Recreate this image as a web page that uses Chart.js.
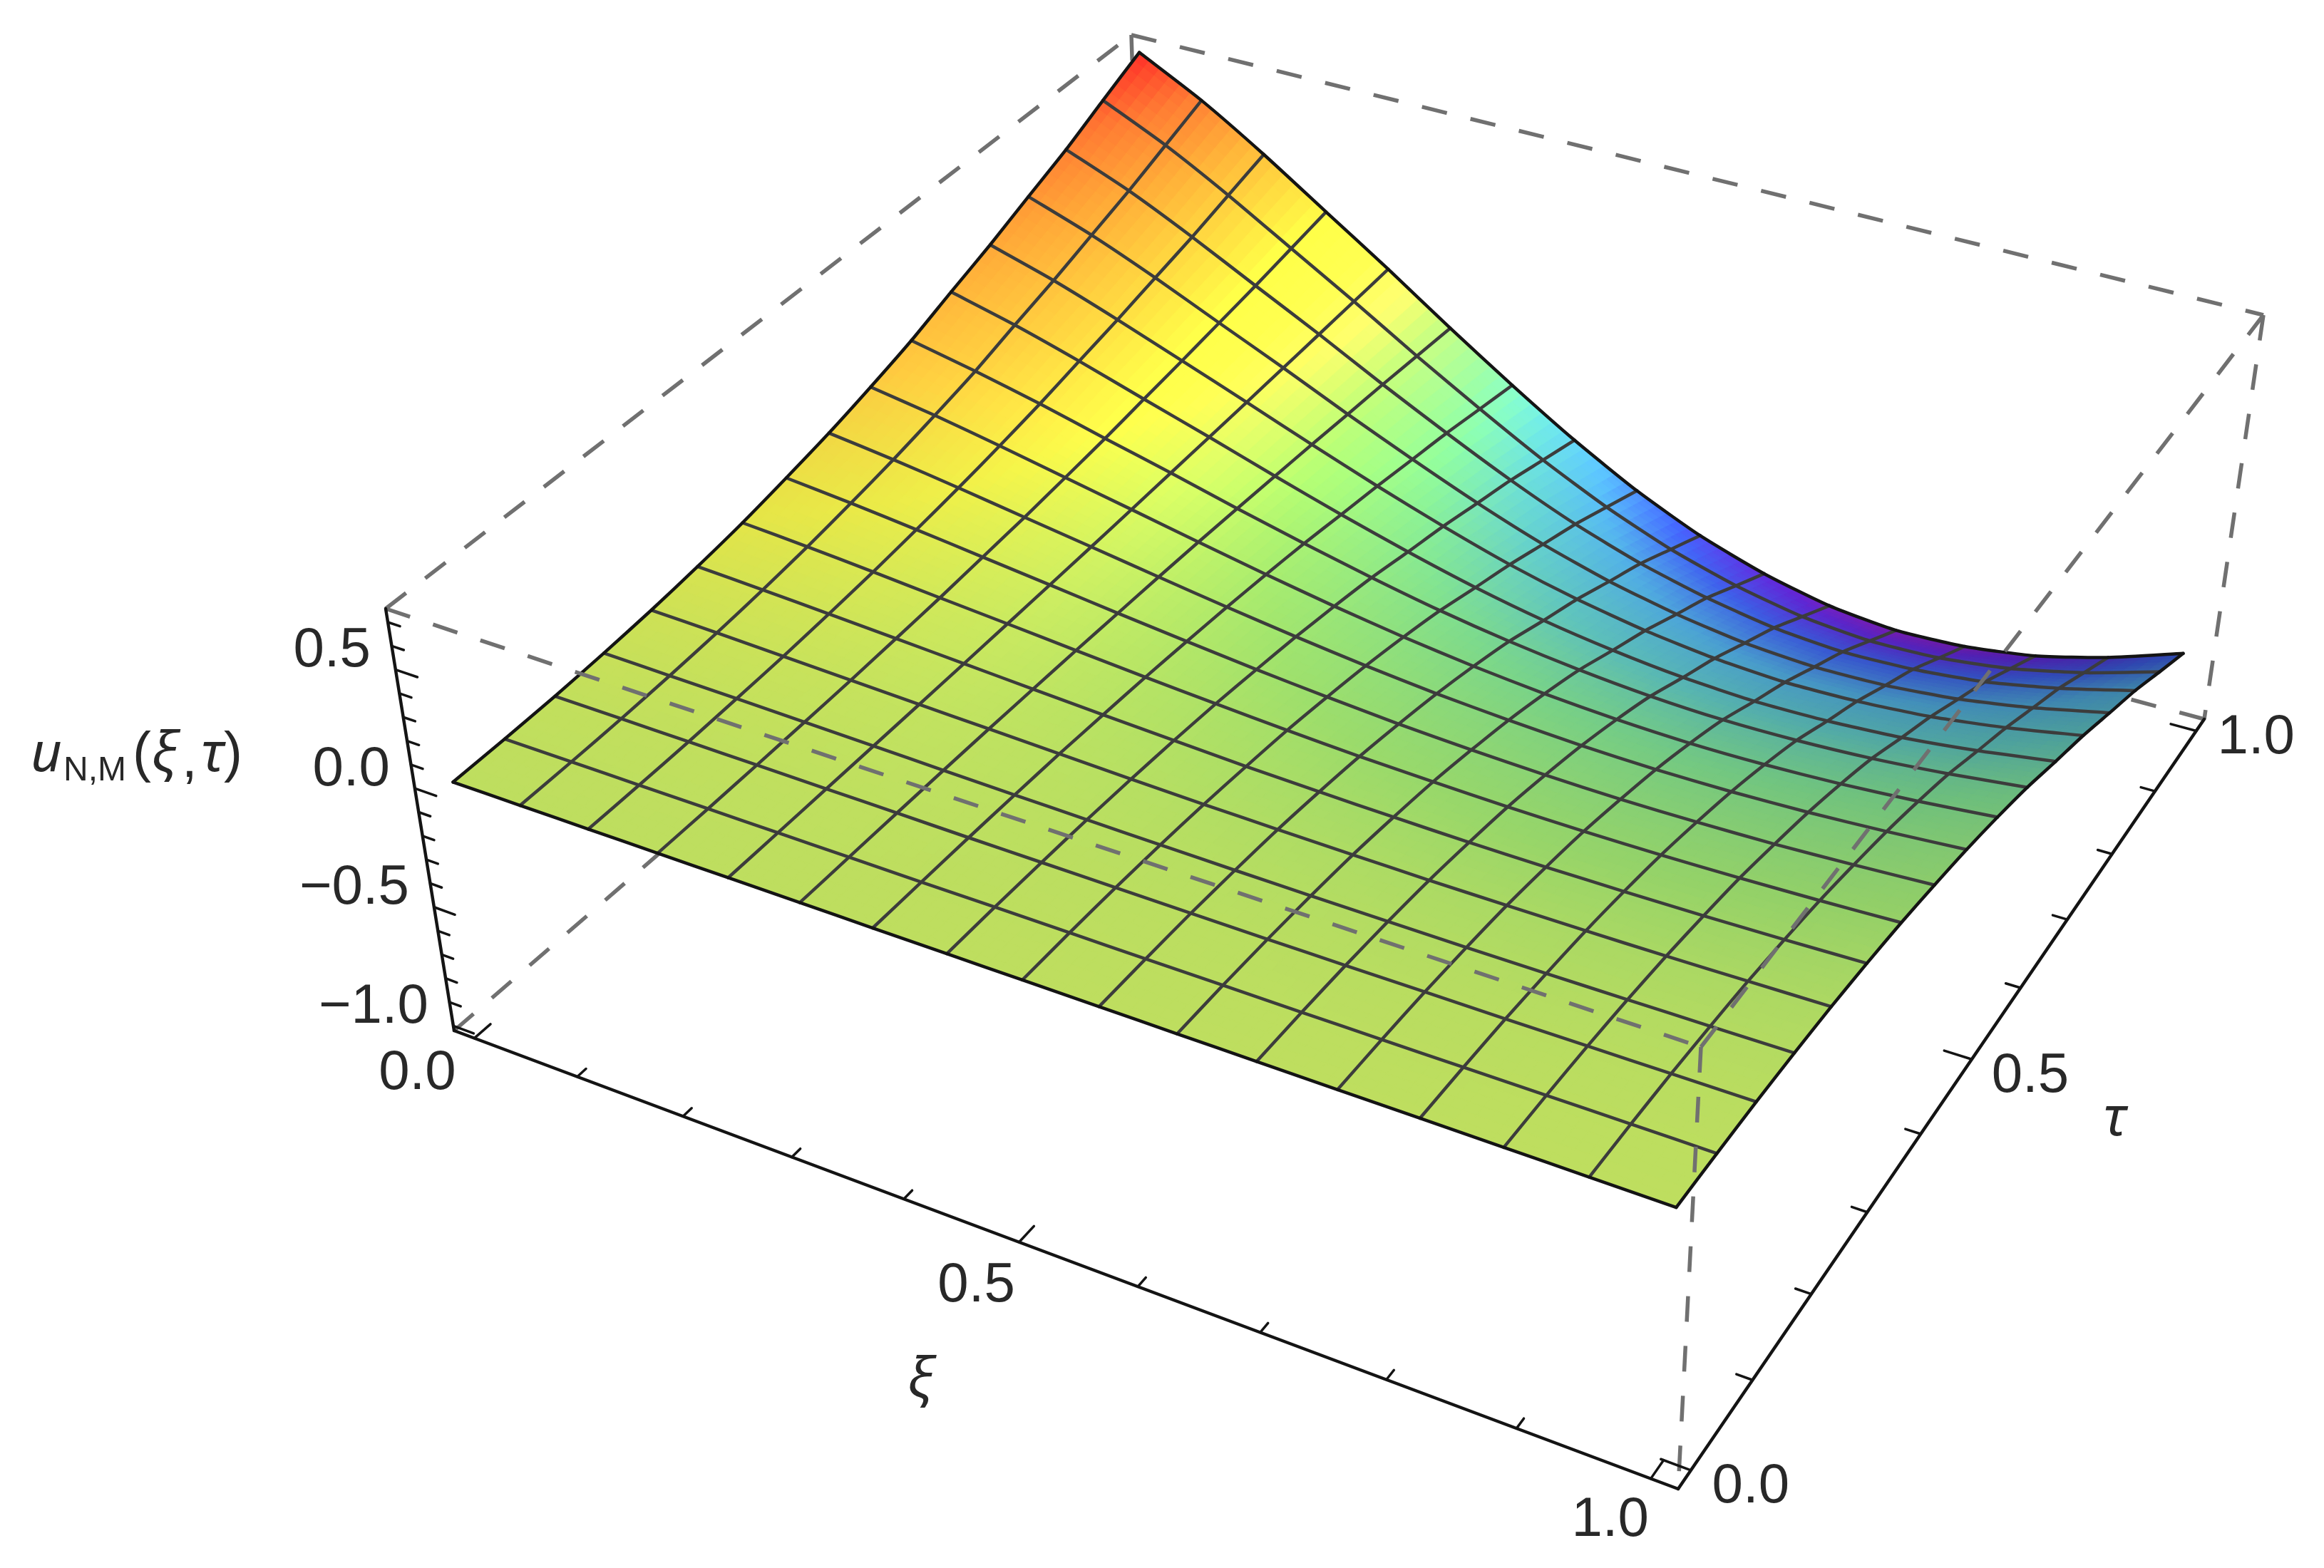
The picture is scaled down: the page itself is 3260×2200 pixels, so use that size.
<!DOCTYPE html>
<html><head><meta charset="utf-8">
<style>html,body{margin:0;padding:0;background:#fff}canvas{display:block}</style>
<script src="https://cdn.jsdelivr.net/npm/chart.js@4"></script>
</head><body><canvas id="c" width="3260" height="2200"></canvas>
<script>
const xiValues=[0,.0625,.125,.1875,.25,.3125,.375,.4375,.5,.5625,.625,.6875,.75,.8125,.875,.9375,1];
const tauValues=[0,.0625,.125,.1875,.25,.3125,.375,.4375,.5,.5625,.625,.6875,.75,.8125,.875,.9375,1];
const uTable=[
[0,0,0,0,0,0,0,0,0,0,0,0,0,0,0,0,0],
[.004,.003,.002,.001,0,-.001,-.002,-.002,-.003,-.004,-.004,-.005,-.005,-.005,-.004,-.004,-.004],
[.011,.009,.006,.004,.001,-.002,-.005,-.007,-.009,-.011,-.013,-.014,-.014,-.014,-.013,-.012,-.011],
[.024,.019,.014,.008,.002,-.004,-.010,-.015,-.020,-.024,-.027,-.029,-.030,-.030,-.028,-.026,-.023],
[.041,.033,.023,.013,.003,-.007,-.017,-.027,-.035,-.041,-.046,-.050,-.051,-.051,-.049,-.044,-.039],
[.065,.052,.037,.021,.005,-.012,-.028,-.042,-.056,-.066,-.074,-.080,-.082,-.081,-.078,-.071,-.062],
[.094,.076,.054,.030,.007,-.017,-.040,-.061,-.080,-.096,-.107,-.115,-.119,-.118,-.112,-.103,-.090],
[.132,.106,.076,.043,.010,-.024,-.056,-.086,-.112,-.134,-.150,-.161,-.167,-.165,-.158,-.144,-.126],
[.174,.140,.100,.056,.013,-.031,-.074,-.113,-.148,-.177,-.198,-.213,-.220,-.218,-.208,-.190,-.166],
[.225,.181,.129,.073,.017,-.040,-.095,-.146,-.191,-.228,-.256,-.275,-.284,-.281,-.268,-.245,-.214],
[.282,.226,.162,.091,.022,-.051,-.119,-.183,-.240,-.286,-.321,-.345,-.356,-.352,-.336,-.307,-.269],
[.352,.283,.202,.114,.027,-.063,-.149,-.229,-.300,-.358,-.401,-.431,-.445,-.440,-.420,-.384,-.336],
[.419,.337,.240,.136,.032,-.075,-.177,-.272,-.357,-.425,-.477,-.512,-.529,-.523,-.500,-.457,-.399],
[.495,.398,.284,.160,.038,-.089,-.209,-.322,-.422,-.503,-.564,-.606,-.625,-.619,-.591,-.540,-.472],
[.569,.458,.326,.184,.044,-.102,-.240,-.370,-.485,-.578,-.648,-.697,-.719,-.711,-.680,-.621,-.543],
[.656,.527,.376,.212,.050,-.118,-.277,-.427,-.558,-.666,-.747,-.803,-.828,-.820,-.783,-.716,-.626],
[.741,.596,.425,.240,.057,-.133,-.313,-.482,-.631,-.753,-.844,-.907,-.936,-.926,-.885,-.809,-.707]
];
const xiTicks=[0,.1,.2,.3,.4,.5,.6,.7,.8,.9,1];
const tauTicks=[0,.1,.2,.3,.4,.5,.6,.7,.8,.9,1];
const uTicks=[-1,-.9,-.8,-.7,-.6,-.5,-.4,-.3,-.2,-.1,0,.1,.2,.3,.4,.5,.6,.7];
const xiLabels=["0.0","0.5","1.0"];
const tauLabels=["0.0","0.5","1.0"];
const uLabels=["\u22121.0","\u22120.5","0.0","0.5"];
const rangeXi=[-.02,1.02], rangeTau=[-.02,1.02], rangeU=[-1.02,.757];

// camera: projected box corners, order (lo,lo) (hi,lo) (hi,hi) (lo,hi)
const floorQuad=[[637,1446],[2354,2089],[3092,1009],[1605,610]];
const ceilQuad=[[541,854],[2386,1469],[3175,442],[1587,49]];
function homography(q){
  const [[x0,y0],[x1,y1],[x2,y2],[x3,y3]]=q;
  const dx1=x1-x2,dx2=x3-x2,sx=x0-x1+x2-x3,dy1=y1-y2,dy2=y3-y2,sy=y0-y1+y2-y3;
  const den=dx1*dy2-dx2*dy1,g=(sx*dy2-dx2*sy)/den,h=(dx1*sy-sx*dy1)/den;
  const a=x1-x0+g*x1,b=x3-x0+h*x3,d=y1-y0+g*y1,e=y3-y0+h*y3;
  return (u,v)=>{const w=g*u+h*v+1;return [(a*u+b*v+x0)/w,(d*u+e*v+y0)/w];};
}
const floorH=homography(floorQuad),ceilH=homography(ceilQuad);
function project(xi,tau,z){
  const u=(xi-rangeXi[0])/(rangeXi[1]-rangeXi[0]),v=(tau-rangeTau[0])/(rangeTau[1]-rangeTau[0]);
  const f=(z-rangeU[0])/(rangeU[1]-rangeU[0]);
  const a=floorH(u,v),b=ceilH(u,v);
  return {x:a[0]+(b[0]-a[0])*f,y:a[1]+(b[1]-a[1])*f};
}
// colour ramp by u value
const ramp=[[-.986,130,25,165],[-.9,105,30,175],[-.85,85,35,190],[-.7,55,85,205],[-.55,70,150,195],[-.4,85,175,170],[-.25,115,200,130],[-.1,150,212,105],[0,190,222,95],[.1,220,220,70],[.25,230,180,60],[.45,225,135,50],[.6,225,95,45],[.74,225,35,35]];
function rampColor(z,L){
  let i=0;while(i<ramp.length-2&&z>ramp[i+1][0])i++;
  const A=ramp[i],B=ramp[i+1];let t=(z-A[0])/(B[0]-A[0]);t=Math.max(0,Math.min(1,t));
  const p=.5+.5*Math.max(0,Math.min(1,(-.05-z)/.3));
  const c=[1,2,3].map(k=>{const f=k===3?Math.pow(L,p):L;return Math.min(255,Math.round((A[k]+(B[k]-A[k])*t)*f));});
  return `rgb(${c[0]},${c[1]},${c[2]})`;
}
const nI=xiValues.length,nJ=tauValues.length;
// shading from slope along xi
const shade=uTable.map((row,j)=>row.map((_,i)=>{
  const i0=Math.max(0,i-1),i1=Math.min(nI-1,i+1);
  const d=(row[i1]-row[i0])/(xiValues[i1]-xiValues[i0]);
  return Math.max(.85,Math.min(1.38,1-(d<0?.14:.1)*d));
}));
const paint=[];
function lineDs(pts,color,width,dash,tension){
  paint.push({data:pts,showLine:true,fill:false,pointRadius:0,borderColor:color,borderWidth:width,borderDash:dash||[],borderCapStyle:dash?'butt':'round',borderJoinStyle:'round',tension:tension||0,clip:false});
}
const DASH=[36,34],GREY='rgb(112,112,112)';
const P=(a,b,c)=>project(rangeXi[a],rangeTau[b],rangeU[c]);
// back box edges
[[P(0,0,0),P(0,1,0)],[P(1,1,0),P(0,1,0)],[P(0,1,1),P(0,1,0)],[P(0,0,1),P(0,1,1)],[P(0,1,1),P(1,1,1)],[P(1,1,1),P(1,1,0)]].forEach(e=>lineDs(e,GREY,5.5,DASH));
// surface patches
const SUB=6;
for(let j=nJ-2;j>=0;j--)for(let i=0;i<nI-1;i++){
  const z00=uTable[j][i],z10=uTable[j][i+1],z01=uTable[j+1][i],z11=uTable[j+1][i+1];
  const L00=shade[j][i],L10=shade[j][i+1],L01=shade[j+1][i],L11=shade[j+1][i+1];
  const zAt=(s,t)=>z00*(1-s)*(1-t)+z10*s*(1-t)+z01*(1-s)*t+z11*s*t;
  const lAt=(s,t)=>L00*(1-s)*(1-t)+L10*s*(1-t)+L01*(1-s)*t+L11*s*t;
  const xiAt=s=>xiValues[i]+(xiValues[i+1]-xiValues[i])*s,tauAt=t=>tauValues[j]+(tauValues[j+1]-tauValues[j])*t;
  for(let b=SUB-1;b>=0;b--)for(let a=0;a<SUB;a++){
    const s0=a/SUB,s1=(a+1)/SUB,t0=b/SUB,t1=(b+1)/SUB;
    const pts=[[s0,t0],[s1,t0],[s1,t1],[s0,t1],[s0,t0]].map(([s,t])=>project(xiAt(s),tauAt(t),zAt(s,t)));
    const col=rampColor(zAt((s0+s1)/2,(t0+t1)/2),lAt((s0+s1)/2,(t0+t1)/2));
    paint.push({data:pts,showLine:true,fill:'shape',backgroundColor:col,borderColor:col,borderWidth:1.5,pointRadius:0,tension:0,clip:false});
  }
}
// mesh
const MESH='rgb(60,60,60)',EDGE='rgb(20,20,20)',T=.2;
for(let j=1;j<nJ-1;j++)lineDs(xiValues.map((x,i)=>project(x,tauValues[j],uTable[j][i])),MESH,4.5,null,T);
for(let i=1;i<nI-1;i++)lineDs(tauValues.map((t,j)=>project(xiValues[i],t,uTable[j][i])),MESH,4.5,null,T);
lineDs(xiValues.map((x,i)=>project(x,0,uTable[0][i])),EDGE,4.5,null,T);
lineDs(xiValues.map((x,i)=>project(x,1,uTable[nJ-1][i])),EDGE,4.5,null,T);
lineDs(tauValues.map((t,j)=>project(0,t,uTable[j][0])),EDGE,4.5,null,T);
lineDs(tauValues.map((t,j)=>project(1,t,uTable[j][nI-1])),EDGE,4.5,null,T);
// front box edges
[[P(0,0,1),P(1,0,1)],[P(1,0,1),P(1,1,1)],[P(1,0,1),P(1,0,0)]].forEach(e=>lineDs(e,GREY,5.5,DASH));
// axes
const AX='rgb(20,20,20)';
lineDs([P(0,0,0),P(1,0,0)],AX,4.5);lineDs([P(1,0,0),P(1,1,0)],AX,4.5);lineDs([P(0,0,0),P(0,0,1)],AX,4.5);
const major=v=>Math.abs(v*2-Math.round(v*2))<1e-6;
xiTicks.forEach(v=>{const L=major(v)?.02:.011;lineDs([project(v,rangeTau[0],rangeU[0]),project(v,rangeTau[0]+L,rangeU[0])],AX,3.5);});
tauTicks.forEach(v=>{const L=major(v)?.022:.012;lineDs([project(rangeXi[1],v,rangeU[0]),project(rangeXi[1]-L,v,rangeU[0])],AX,3.5);});
uTicks.forEach(v=>{const L=major(v)?.02:.011;lineDs([project(rangeXi[0],rangeTau[0],v),project(rangeXi[0]+L,rangeTau[0],v)],AX,3.5);});

const textPlugin={id:'labels',afterDatasetsDraw(ch){
  const c=ch.ctx,X=ch.scales.x,Y=ch.scales.y;
  c.save();c.fillStyle='rgb(40,40,40)';c.textBaseline='middle';
  const FONT='400 78px "Liberation Sans"',ITAL='italic 400 76px "Noto Sans"';
  const put=(s,p,dx,dy,al,f)=>{c.font=f||FONT;c.textAlign=al||'center';c.fillText(s,X.getPixelForValue(p.x)+dx,Y.getPixelForValue(p.y)+dy);};
  const xo=[[-80,50],[-60,62],[-57,59]];
  xiLabels.forEach((s,k)=>put(s,project(parseFloat(s),rangeTau[0],rangeU[0]),xo[k][0],xo[k][1]));
  const to=[[84,24],[82,24],[84,10]];
  tauLabels.forEach((s,k)=>put(s,project(rangeXi[1],parseFloat(s),rangeU[0]),to[k][0],to[k][1]));
  uLabels.forEach(s=>put(s,project(rangeXi[0],rangeTau[0],parseFloat(s.replace('\u2212','-'))),-35,-26,'right'));
  put('\u03be',{x:1291,y:1938},0,0,'center',ITAL);
  put('\u03c4',{x:2966,y:1571},0,0,'center',ITAL);
  const yT=1060;
  put('u',{x:43,y:yT},0,0,'left',ITAL);
  put('N,M',{x:89,y:yT+22},0,0,'left','400 48px "Liberation Sans"');
  put('(',{x:186,y:yT},0,0,'left',FONT);
  put('\u03be',{x:213,y:yT},0,0,'left',ITAL);
  put(',',{x:255,y:yT+8},0,0,'left',FONT);
  put('\u03c4',{x:282,y:yT},0,0,'left',ITAL);
  put(')',{x:314,y:yT},0,0,'left',FONT);
  c.restore();
}};
new Chart(document.getElementById('c'),{type:'scatter',
  data:{datasets:paint.slice().reverse()},
  options:{responsive:false,animation:false,events:[],layout:{padding:0},
    plugins:{legend:{display:false},tooltip:{enabled:false},title:{display:false}},
    scales:{x:{type:'linear',display:false,min:0,max:3260},y:{type:'linear',display:false,min:0,max:2200,reverse:true}}},
  plugins:[textPlugin]});
</script></body></html>
